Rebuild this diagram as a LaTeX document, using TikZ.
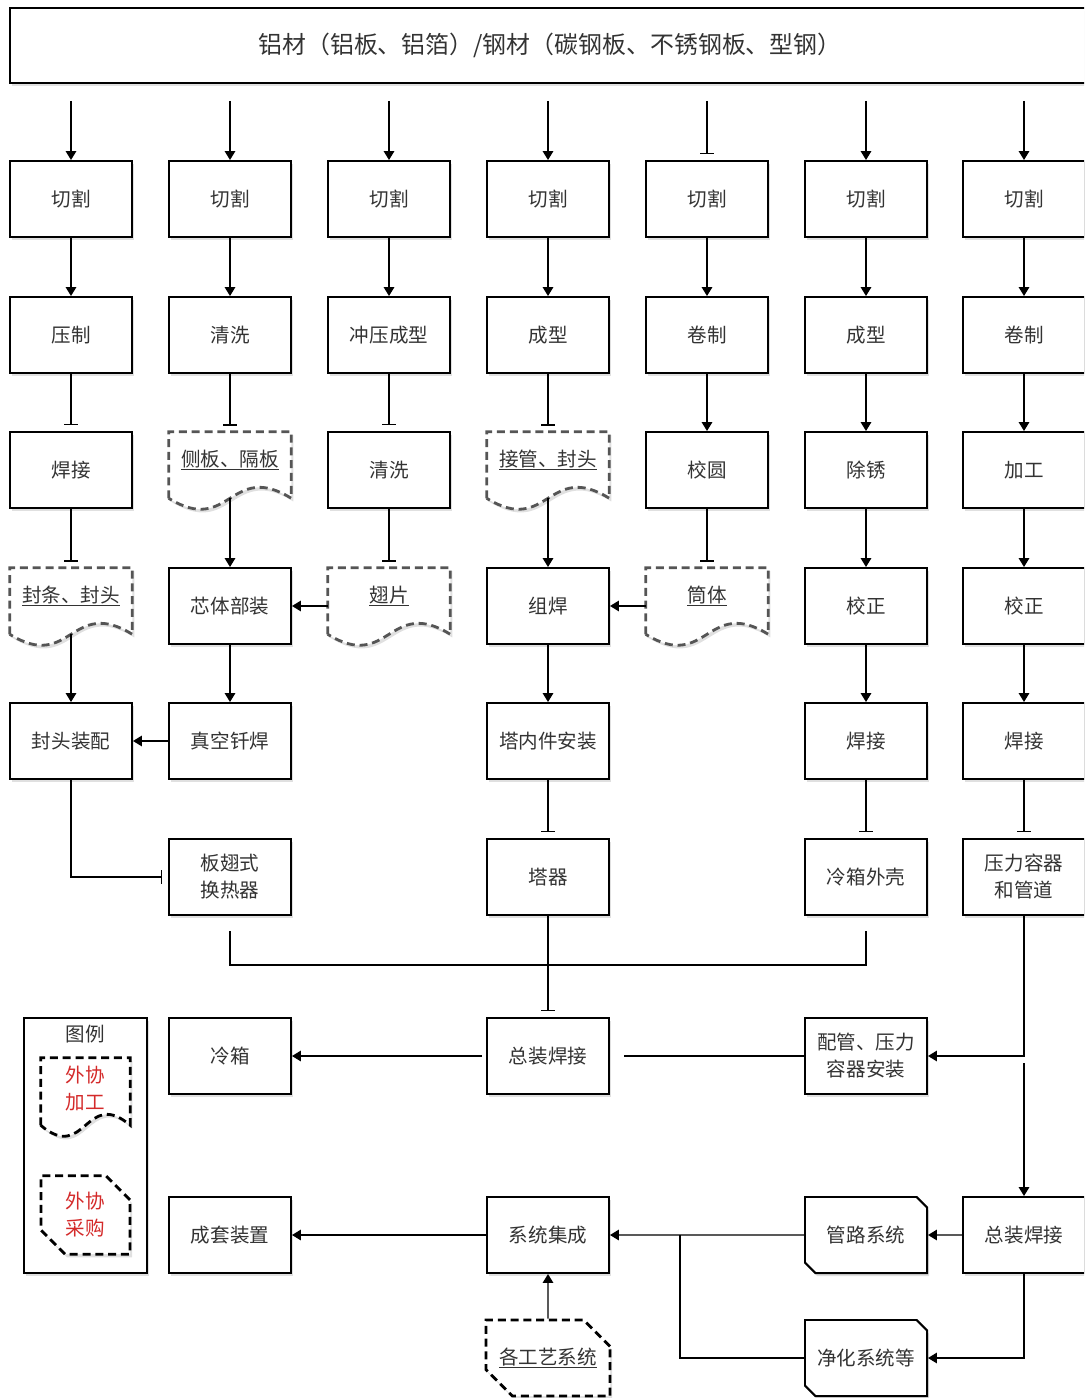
\documentclass[tikz,border=0pt]{standalone}
\usepackage{fontspec}
\setmainfont{Noto Sans CJK SC}
\usetikzlibrary{positioning,arrows.meta,shapes.misc,shadows,calc,backgrounds}
\definecolor{inkgray}{HTML}{333333}
\definecolor{docgray}{HTML}{555555}
\definecolor{outred}{HTML}{D42A2A}
\newcommand\boxfont{\fontsize{13.9}{19.2}\selectfont}
\newcommand\docoutline[2]{\draw[#1] ($(#2.south west)+(0,-10)$) -- (#2.north west) -- (#2.north east) -- ($(#2.south east)+(0,-10)$) .. controls ($(#2.south)+(0,-48)$) and ($(#2.south)+(0,28)$) .. ($(#2.south west)+(0,-10)$) -- cycle;}
\tikzset{
  flowarrow/.style={-{Triangle[width=2.6mm,length=2.2mm]}, line width=1pt},
  teeline/.style={-{Bar[width=3.4mm]}, line width=1pt, shorten >=1.5mm},
  plainline/.style={line width=1pt},
  boxshadow/.style={drop shadow={shadow xshift=0.05cm, shadow yshift=-0.08cm, fill=black, opacity=0.12}},
  procbox/.style={draw, line width=1.4pt, fill=white, boxshadow, minimum width=3.05cm, minimum height=1.9cm, align=center, text=inkgray, font=\boxfont},
  rawbox/.style={draw, line width=1.4pt, fill=white, boxshadow, minimum width=27cm, minimum height=1.875cm, text=inkgray, font=\fontsize{17}{20}\selectfont},
  snipbox/.style={procbox, chamfered rectangle, chamfered rectangle corners={north east,south west}, chamfered rectangle xsep=0.13cm, chamfered rectangle ysep=0.13cm},
  buybox/.style={draw, dash pattern=on 0.2cm off 0.12cm, line width=2pt, fill=white, boxshadow, chamfered rectangle, chamfered rectangle corners={north east,south west}, chamfered rectangle xsep=0.33cm, chamfered rectangle ysep=0.33cm, inner xsep=0pt, minimum width=3.05cm, minimum height=1.9cm, align=center, text=inkgray, font=\boxfont},
  doclabel/.style={text=inkgray, font=\boxfont, align=center, yshift=0.25cm},
  docnode/.style={minimum width=3.05cm, minimum height=1.9cm, label={[doclabel]center:#1}},
  docline/.style={draw=docgray, dash pattern=on 0.2cm off 0.12cm, line width=2pt, fill=white, boxshadow},
  legline/.style={draw=black, dash pattern=on 0.2cm off 0.12cm, line width=2pt, fill=white, boxshadow},
  leglabel/.style={text=outred, font=\boxfont, align=center, yshift=0.21cm},
  legdoc/.style={minimum width=2.225cm, minimum height=1.925cm, label={[leglabel]center:#1}}
}
\begin{document}
\begin{tikzpicture}[x=0.025cm, y=-0.025cm]
  \useasboundingbox (0,0) rectangle (1084,1398);
  \clip (0,0) rectangle (1084,1398);

  \node[rawbox] (raw) at (550,45.5) {铝材（铝板、铝箔）/钢材（碳钢板、不锈钢板、型钢）};

  \node[procbox] (cutA) at (71,199) {切割};
  \node[procbox] (cutB) at (230,199) {切割};
  \node[procbox] (cutC) at (389,199) {切割};
  \node[procbox] (cutD) at (548,199) {切割};
  \node[procbox] (cutE) at (707,199) {切割};
  \node[procbox] (cutF) at (866,199) {切割};
  \node[procbox] (cutG) at (1024,199) {切割};

  \node[procbox] (pressA) at (71,335) {压制};
  \node[procbox] (washB) at (230,335) {清洗};
  \node[procbox] (stampC) at (389,335) {冲压成型};
  \node[procbox] (formD) at (548,335) {成型};
  \node[procbox] (rollE) at (707,335) {卷制};
  \node[procbox] (formF) at (866,335) {成型};
  \node[procbox] (rollG) at (1024,335) {卷制};

  \node[procbox] (weldA) at (71,470) {焊接};
  \node[docnode={\underline{侧板、隔板}}] (docB) at (230,470) {};
  \node[procbox] (washC) at (389,470) {清洗};
  \node[docnode={\underline{接管、封头}}] (docD) at (548,470) {};
  \node[procbox] (roundE) at (707,470) {校圆};
  \node[procbox] (rustF) at (866,470) {除锈};
  \node[procbox] (machG) at (1024,470) {加工};

  \node[docnode={\underline{封条、封头}}] (docA) at (71,606) {};
  \node[procbox] (coreB) at (230,606) {芯体部装};
  \node[docnode={\underline{翅片}}] (docC) at (389,606) {};
  \node[procbox] (weldD) at (548,606) {组焊};
  \node[docnode={\underline{筒体}}] (docE) at (707,606) {};
  \node[procbox] (trueF) at (866,606) {校正};
  \node[procbox] (trueG) at (1024,606) {校正};

  \node[procbox] (headA) at (71,741) {封头装配};
  \node[procbox] (brazeB) at (230,741) {真空钎焊};
  \node[procbox] (internD) at (548,741) {塔内件安装};
  \node[procbox] (weldF) at (866,741) {焊接};
  \node[procbox] (weldG) at (1024,741) {焊接};

  \node[procbox] (pfhe) at (230,877) {板翅式\\换热器};
  \node[procbox] (tower) at (548,877) {塔器};
  \node[procbox] (shell) at (866,877) {冷箱外壳};
  \node[procbox] (vessel) at (1024,877) {压力容器\\和管道};

  \node[procbox] (coldbox) at (230,1056) {冷箱};
  \node[procbox] (asmA) at (548,1056) {总装焊接};
  \node[procbox] (piping) at (866,1056) {配管、压力\\容器安装};

  \node[procbox] (plant) at (230,1235) {成套装置};
  \node[procbox] (integ) at (548,1235) {系统集成};
  \node[snipbox] (pipesys) at (866,1235) {管路系统};
  \node[procbox] (asmB) at (1024,1235) {总装焊接};

  \node[buybox] (procsys) at (548,1358) {\underline{各工艺系统}};
  \node[snipbox] (purify) at (866,1358) {净化系统等};

  \node[text=inkgray, font=\boxfont] (legtitle) at (85,1034) {图例};
  \node[legdoc={外协\\加工}] (legmake) at (85.5,1096.5) {};
  \node[buybox, text=outred, minimum width=2.225cm, minimum height=1.9cm, chamfered rectangle xsep=0.3cm, chamfered rectangle ysep=0.3cm] (legbuy) at (85.5,1215) {外协\\采购};

  \begin{scope}[on background layer]
    \node[draw, line width=1.4pt, fill=white, boxshadow, minimum width=3.075cm, minimum height=6.375cm] (legend) at (85.5,1145.5) {};
    \docoutline{docline}{docA}
    \docoutline{docline}{docB}
    \docoutline{docline}{docC}
    \docoutline{docline}{docD}
    \docoutline{docline}{docE}
    \docoutline{legline}{legmake}
  \end{scope}

  \coordinate (bus) at (0,965);
  \coordinate (tap) at (680,1235);

  \draw[flowarrow, shorten <=0.425cm] (cutA |- raw.south) -- (cutA.north);
  \draw[flowarrow, shorten <=0.425cm] (cutB |- raw.south) -- (cutB.north);
  \draw[flowarrow, shorten <=0.425cm] (cutC |- raw.south) -- (cutC.north);
  \draw[flowarrow, shorten <=0.425cm] (cutD |- raw.south) -- (cutD.north);
  \draw[teeline, shorten <=0.425cm] (cutE |- raw.south) -- (cutE.north);
  \draw[flowarrow, shorten <=0.425cm] (cutF |- raw.south) -- (cutF.north);
  \draw[flowarrow, shorten <=0.425cm] (cutG |- raw.south) -- (cutG.north);

  \draw[flowarrow] (cutA) -- (pressA);
  \draw[flowarrow] (cutB) -- (washB);
  \draw[flowarrow] (cutC) -- (stampC);
  \draw[flowarrow] (cutD) -- (formD);
  \draw[flowarrow] (cutE) -- (rollE);
  \draw[flowarrow] (cutF) -- (formF);
  \draw[flowarrow] (cutG) -- (rollG);

  \draw[teeline] (pressA.south) -- (weldA.north);
  \draw[teeline] (washB.south) -- (docB.north);
  \draw[teeline] (stampC.south) -- (washC.north);
  \draw[teeline] (formD.south) -- (docD.north);
  \draw[flowarrow] (rollE) -- (roundE);
  \draw[flowarrow] (formF) -- (rustF);
  \draw[flowarrow] (rollG) -- (machG);

  \draw[teeline] (weldA.south) -- (docA.north);
  \draw[flowarrow] ($(docB.south)+(0,-10)$) -- (coreB.north);
  \draw[teeline] (washC.south) -- (docC.north);
  \draw[flowarrow] ($(docD.south)+(0,-10)$) -- (weldD.north);
  \draw[teeline] (roundE.south) -- (docE.north);
  \draw[flowarrow] (rustF) -- (trueF);
  \draw[flowarrow] (machG) -- (trueG);

  \draw[flowarrow] (docC.west) -- (coreB.east);
  \draw[flowarrow] (docE.west) -- (weldD.east);

  \draw[flowarrow] ($(docA.south)+(0,-10)$) -- (headA.north);
  \draw[flowarrow] (coreB) -- (brazeB);
  \draw[flowarrow] (weldD) -- (internD);
  \draw[flowarrow] (trueF) -- (weldF);
  \draw[flowarrow] (trueG) -- (weldG);
  \draw[flowarrow] (brazeB) -- (headA);

  \draw[teeline] (headA.south) |- (pfhe.west);
  \draw[teeline] (internD.south) -- (tower.north);
  \draw[teeline] (weldF.south) -- (shell.north);
  \draw[teeline] (weldG.south) -- (vessel.north);

  \draw[plainline, shorten <=0.375cm, shorten >=0.375cm] (pfhe.south) -- (pfhe.south |- bus) -| (shell.south);
  \draw[teeline] (tower.south) -- (asmA.north);

  \draw[flowarrow, shorten <=0.1cm] (asmA.west) -- (coldbox.east);
  \draw[plainline, shorten <=0.35cm] (asmA.east) -- (piping.west);
  \draw[flowarrow] (vessel.south) |- (piping.east);
  \draw[flowarrow, shorten <=0.175cm] (vessel.south |- piping.east) -- (asmB.north);

  \draw[flowarrow] (asmB) -- (pipesys);
  \draw[flowarrow] (pipesys) -- (integ);
  \draw[flowarrow] (asmB.south) |- (purify.east);
  \draw[plainline] (purify.west) -| (tap);
  \draw[flowarrow] (integ) -- (plant);
  \draw[flowarrow] (procsys) -- (integ);
\end{tikzpicture}
\end{document}
